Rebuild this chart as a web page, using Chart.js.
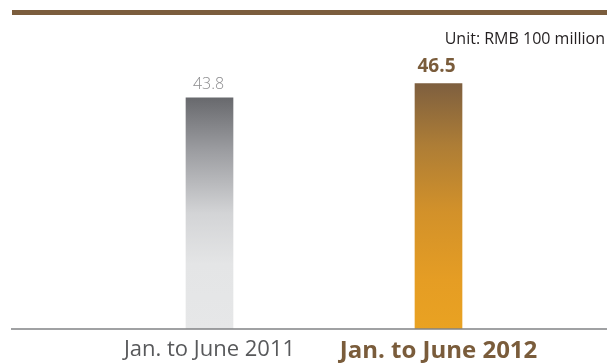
<!DOCTYPE html>
<html>
<head>
<meta charset="utf-8">
<script src="https://cdn.jsdelivr.net/npm/chart.js@4.4.1/dist/chart.umd.min.js"></script>
<style>
  html, body { margin: 0; padding: 0; background: #ffffff; }
  #wrap { position: relative; width: 607px; height: 363px; overflow: hidden; }
  #rule { position: absolute; left: 12px; top: 10px; width: 595px; height: 5px; background: #7b5d3d; }
  #unit { position: absolute; right: 2px; top: 27px; font: 16px "Open Sans", sans-serif; color: #231f20; white-space: nowrap; }
  canvas { position: absolute; left: 0; top: 0; }
</style>
</head>
<body>
<div id="wrap">
  <canvas id="chart" width="607" height="363"></canvas>
  <div id="rule"></div>
  <div id="unit">Unit: RMB 100 million</div>
</div>
<script>
// Half-year figures, RMB 100 million
const categories = ['Jan. to June 2011', 'Jan. to June 2012'];
const values = [43.8, 46.5];
const valueLabels = ['43.8', '46.5'];

const FONT = '"Open Sans", sans-serif';

// vertical gradient spanning a single bar, from its top down to the zero line
function barGradient(context) {
  const chart = context.chart;
  const yScale = chart.scales.y;
  if (!chart.chartArea || !yScale) return '#cccccc';
  const v = values[context.dataIndex];
  const top = yScale.getPixelForValue(v);
  const base = yScale.getPixelForValue(0);
  const g = chart.ctx.createLinearGradient(0, top, 0, base);
  if (context.dataIndex === 0) {
    g.addColorStop(0, '#68696d');
    g.addColorStop(0.22, '#9a9b9f');
    g.addColorStop(0.5, '#d3d4d6');
    g.addColorStop(0.72, '#e4e5e6');
    g.addColorStop(1, '#e6e7e8');
  } else {
    g.addColorStop(0, '#7e5f3f');
    g.addColorStop(0.25, '#ad7d36');
    g.addColorStop(0.52, '#d2912a');
    g.addColorStop(0.8, '#e59d24');
    g.addColorStop(1, '#e9a222');
  }
  return g;
}

// baseline running across the full width at the zero value
const baseline = {
  id: 'baseline',
  afterDatasetsDraw(chart) {
    const y = chart.scales.y.getPixelForValue(0);
    const ctx = chart.ctx;
    ctx.save();
    ctx.strokeStyle = '#808285';
    ctx.lineWidth = 1.5;
    ctx.beginPath();
    ctx.moveTo(11, y);
    ctx.lineTo(chart.width, y);
    ctx.stroke();
    ctx.restore();
  }
};

// value captions above each bar
const valueCaptions = {
  id: 'valueCaptions',
  afterDatasetsDraw(chart) {
    const meta = chart.getDatasetMeta(0);
    const ctx = chart.ctx;
    ctx.save();
    ctx.textAlign = 'center';
    ctx.textBaseline = 'alphabetic';
    meta.data.forEach((bar, i) => {
      if (i === 0) {
        ctx.font = '300 16px ' + FONT;
        ctx.fillStyle = '#8c8c8e';
        ctx.fillText(valueLabels[i], bar.x - 1, bar.y - 9);
      } else {
        ctx.font = 'bold 19px ' + FONT;
        ctx.fillStyle = '#7a5c3b';
        ctx.fillText(valueLabels[i], bar.x - 2, bar.y - 11);
      }
    });
    ctx.restore();
  }
};

new Chart(document.getElementById('chart'), {
  type: 'bar',
  data: {
    labels: categories,
    datasets: [{
      data: values,
      backgroundColor: barGradient,
      borderWidth: 0,
      barThickness: 47
    }]
  },
  options: {
    responsive: false,
    animation: false,
    events: [],
    layout: { padding: { left: 95, right: 54, top: 65, bottom: 0 } },
    plugins: { legend: { display: false }, tooltip: { enabled: false }, title: { display: false } },
    scales: {
      y: {
        display: false,
        min: 0,
        max: 50
      },
      x: {
        grid: { display: false, drawTicks: false },
        border: { display: false },
        afterFit(scale) { scale.height = 34; },
        ticks: {
          padding: 8,
          maxRotation: 0,
          autoSkip: false,
          color: (c) => c.index === 1 ? '#7a5c3b' : '#58595b',
          font: (c) => c.index === 1
            ? { family: FONT, size: 24, weight: 'bold' }
            : { family: FONT, size: 22, weight: 'normal' }
        }
      }
    }
  },
  plugins: [baseline, valueCaptions]
});
</script>
</body>
</html>
